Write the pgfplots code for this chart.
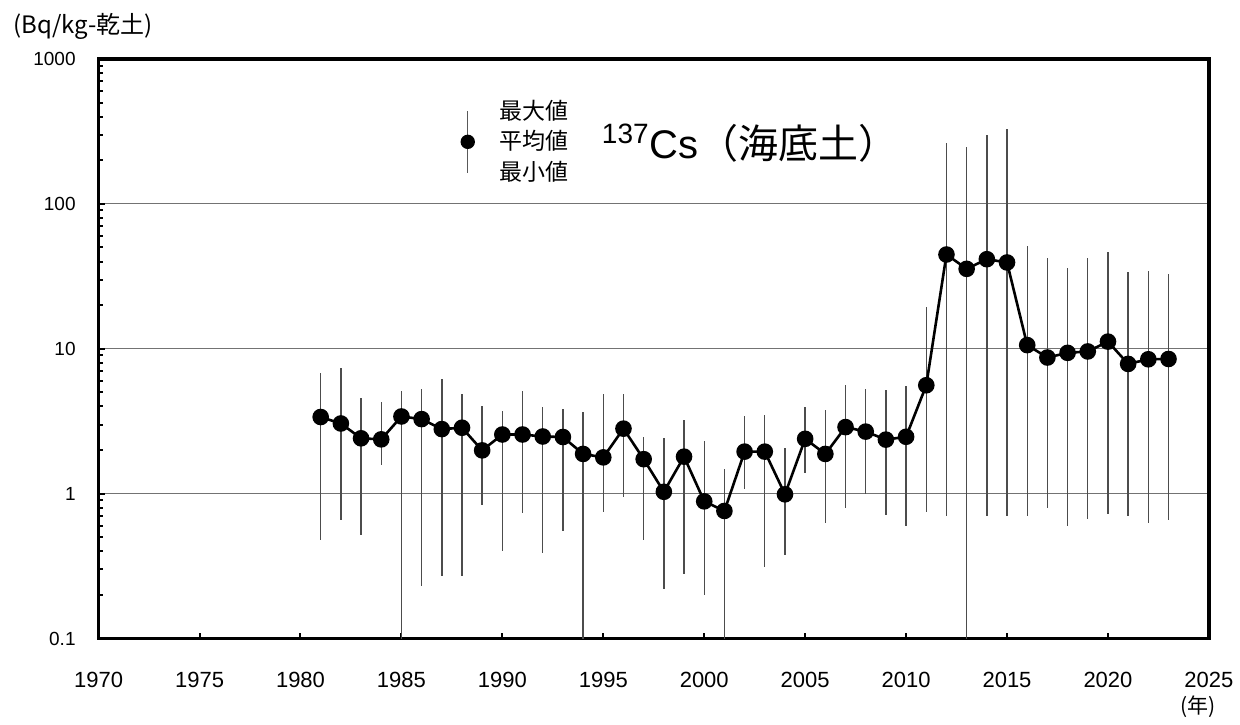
\documentclass[border=0pt]{standalone}
\usepackage{fontspec}
\setmainfont{Liberation Sans}
\newfontfamily\cjk{Noto Sans CJK JP}
\usepackage{pgfplots}
\usepackage{pgfplotstable}
\pgfplotsset{compat=1.18}

% year, mean, max, min  (Bq/kg dry soil, 137Cs in sea-bottom soil)
\pgfplotstableread{
year mean max min
1981 3.38 6.8 0.48
1982 3.05 7.36 0.66
1983 2.41 4.6 0.52
1984 2.37 4.26 1.58
1985 3.41 5.08 0.05
1986 3.27 5.27 0.23
1987 2.79 6.18 0.27
1988 2.85 4.84 0.27
1989 1.99 4.03 0.83
1990 2.56 3.73 0.40
1991 2.56 5.13 0.73
1992 2.48 3.94 0.39
1993 2.46 3.84 0.55
1994 1.88 3.66 0.05
1995 1.78 4.87 0.75
1996 2.81 4.87 0.95
1997 1.73 2.47 0.48
1998 1.03 2.42 0.22
1999 1.80 3.22 0.28
2000 0.885 2.32 0.199
2001 0.76 1.47 0.05
2002 1.95 3.45 1.07
2003 1.95 3.51 0.31
2004 0.99 2.07 0.38
2005 2.39 3.94 1.39
2006 1.88 3.76 0.63
2007 2.88 5.65 0.80
2008 2.68 5.24 1.00
2009 2.36 5.19 0.71
2010 2.47 5.50 0.60
2011 5.60 19.4 0.75
2012 44.7 262 0.70
2013 35.6 245 0.05
2014 41.5 299 0.70
2015 39.4 326 0.70
2016 10.6 50.9 0.70
2017 8.70 42 0.80
2018 9.37 36 0.60
2019 9.58 42 0.67
2020 11.2 46.7 0.72
2021 7.86 33.6 0.70
2022 8.46 34.6 0.63
2023 8.50 32.7 0.66
}\cesium

\begin{document}
\begin{tikzpicture}
\begin{axis}[
    at={(0,0)}, anchor=south west,
    scale only axis,
    width=555.5pt, height=290pt,
    xmin=1970, xmax=2025,
    ymode=log, ymin=0.1, ymax=1000,
    xtick={1970,1975,...,2025},
    ytick={0.1,1,10,100,1000},
    yticklabels={0.1,1,10,100,1000},
    xtick pos=bottom, ytick pos=left,
    tick align=inside,
    major tick length=3pt, minor tick length=2pt,
    tick style={black, line width=1pt},
    minor y tick style={line width=1pt},
    ymajorgrids=true,
    major grid style={gray!90!black, line width=0.6pt},
    axis line style={line width=1.7pt},
    /pgf/number format/.cd, 1000 sep={}, assume math mode=true,
    /pgfplots/.cd,
    xticklabel style={yshift=-13.5pt, font=\fontsize{11}{13}\selectfont},
    yticklabel style={xshift=-8pt, font=\fontsize{9.5}{11}\selectfont},
    legend style={at={(rel axis cs:0.3177,0.857)}, anchor=west,
        draw=none, fill=none, inner sep=0pt, column sep=2pt,
        nodes={align=left, inner sep=0pt},
        font=\cjk\fontsize{11.5}{15.5}\selectfont},
    legend cell align=left,
    legend image code/.code={
        \path[draw=none, fill=none] (0pt,0pt) -- (22pt,0pt);
        \draw[gray!70!black, line width=0.7pt] (8pt,-15.5pt) -- (8pt,15.5pt);
        \node[circle, fill=black, inner sep=0pt, minimum size=7.2pt, anchor=center] at (8pt,0pt) {};
    },
]
\addplot[draw=none, mark=none, forget plot,
    error bars/.cd, y dir=both, y explicit,
    error mark=none,
    error bar style={draw=gray!60!black, line width=0.7pt}]
    table[x=year, y=mean,
          y error plus expr=\thisrow{max}-\thisrow{mean},
          y error minus expr=\thisrow{mean}-\thisrow{min}] {\cesium};
\addplot[black, line width=1.3pt, mark=*, mark size=3.5pt,
    mark options={fill=black}]
    table[x=year, y=mean] {\cesium};
\addlegendentry{最大値\\平均値\\最小値}
\node[anchor=west, font=\fontsize{20}{24}\selectfont]
    at (rel axis cs:0.447,0.855) {\textsuperscript{137}Cs{\cjk （海底土）}};
\end{axis}
\node[anchor=west, font=\cjk\fontsize{12}{14}\selectfont] at (-46pt,306.5pt) {(Bq/kg-乾土)};
\node[anchor=north, font=\cjk\fontsize{10.5}{12}\selectfont] at (550pt,-25pt) {(年)};
\useasboundingbox (-49.35pt,-39pt) rectangle (570.65pt,319.5pt);
\end{tikzpicture}
\end{document}
